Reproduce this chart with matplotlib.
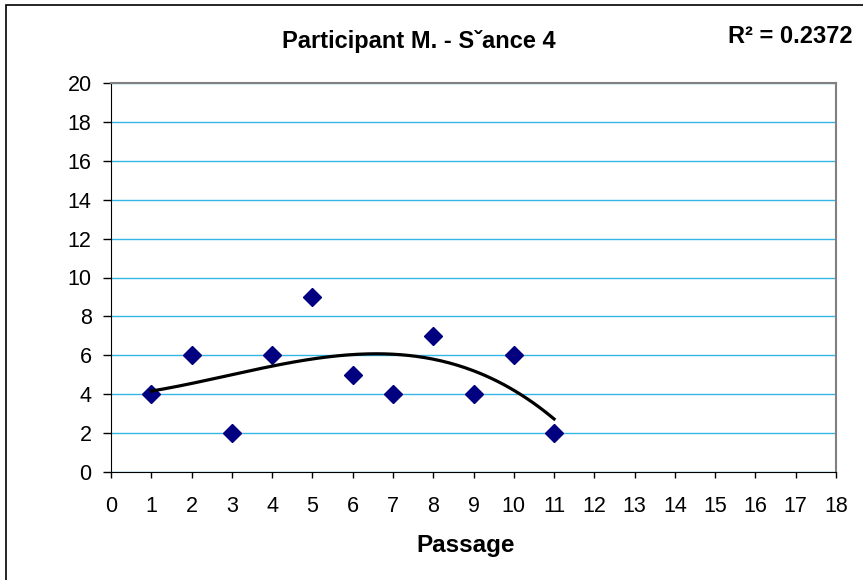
import matplotlib
matplotlib.use("Agg")
import matplotlib.pyplot as plt
import numpy as np
from matplotlib.patches import Rectangle

passage = [1, 2, 3, 4, 5, 6, 7, 8, 9, 10, 11]
score = [4, 6, 2, 6, 9, 5, 4, 7, 4, 6, 2]
x_ticks = list(range(0, 19))
y_ticks = list(range(0, 21, 2))
title = "Participant M. - S\u02c7ance 4"

plt.rcParams['font.family'] = ['Liberation Sans', 'DejaVu Sans']

fig = plt.figure(figsize=(8.63, 5.80), dpi=100)
W, H = 863, 580
ax = fig.add_axes([111 / W, 1 - 472 / H, (836 - 111) / W, (472 - 83) / H])

# outer chart border (cut off at right and bottom like the original)
fig.patches.append(Rectangle((6 / W, -0.1), 1.2, 1 - 5 / H + 0.1, transform=fig.transFigure,
                             fill=False, edgecolor='black', linewidth=1.2))

ax.set_xlim(0, 18)
ax.set_ylim(0, 20)
ax.set_xticks(x_ticks)
ax.set_yticks(y_ticks)
ax.tick_params(labelsize=15.5, direction='out', width=1)
ax.tick_params(axis='x', length=4.5, pad=13)
ax.tick_params(axis='y', length=5.5, pad=8.5)
ax.grid(True, axis='y', color='#33b5e5', linewidth=1)
ax.set_axisbelow(True)
for s in ['top', 'right']:
    ax.spines[s].set_color('#808080')
    ax.spines[s].set_linewidth(1.5)
for s in ['left', 'bottom']:
    ax.spines[s].set_color('black')

ax.plot(passage, score, linestyle='none', marker='D', markersize=9,
        color='#000080', zorder=3)

# cubic trendline, as in the spreadsheet
coef = np.polyfit(passage, score, 3)
xs = np.linspace(passage[0], passage[-1], 200)
ax.plot(xs, np.polyval(coef, xs), color='black', linewidth=2.3, zorder=4)
pred = np.polyval(coef, passage)
r2 = 1 - np.sum((np.array(score) - pred) ** 2) / np.sum((np.array(score) - np.mean(score)) ** 2)

fig.text(419 / W, 1 - 48 / H, title, ha='center', va='baseline', fontsize=17, fontweight='bold')
fig.text(790 / W, 1 - 43 / H, "R\u00b2 = %.4f" % r2, ha='center', va='baseline', fontsize=17, fontweight='bold')
fig.text(466 / W, 1 - 552 / H, "Passage", ha='center', va='baseline', fontsize=17.5, fontweight='bold')

fig.savefig("out.png", dpi=100)
